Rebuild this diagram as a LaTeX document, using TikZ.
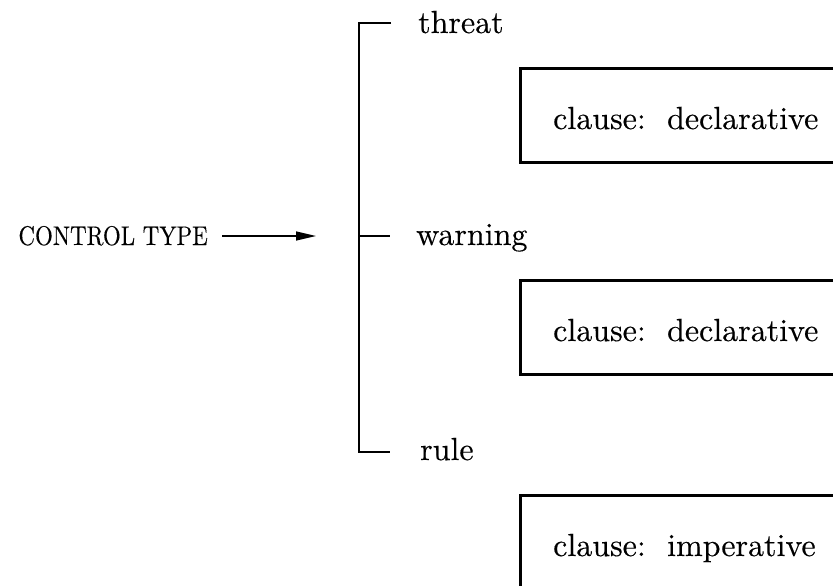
\documentclass[tikz,border=0pt]{standalone}
\usepackage{fontspec}
\usetikzlibrary{arrows.meta}
% a slightly heavier Latin Modern for all labels
\newfontfamily\labelfont{lmroman10-regular}[Extension=.otf, FakeBold=0.3]
\begin{document}
\begin{tikzpicture}[x=1pt,y=-1pt,
  lbl/.style={font=\labelfont\fontsize{32}{36}\selectfont, inner sep=0pt, anchor=base west},
  rootlbl/.style={font=\labelfont\fontsize{27}{31}\selectfont, inner sep=0pt, anchor=base east},
  clausebox/.style={draw, line width=2.6pt, minimum width=360pt, minimum height=94pt,
    anchor=north west, inner sep=0pt},
  bracketline/.style={line width=2.2pt, line cap=butt},
  arrowline/.style={line width=1.3pt, -{Triangle[length=20pt,width=9pt]}}]
  \useasboundingbox (0,0) rectangle (833,586);
  \clip (0,0) rectangle (833,586);

  % root label (narrowed caps) and its arrow into the bracket
  \node[rootlbl] (ct) at (208,245) {\scalebox{0.85}[1]{CONTROL TYPE}};
  \coordinate (top) at (359,23);
  \coordinate (mid) at (359,236);
  \coordinate (bot) at (359,452);
  \coordinate (arrowend) at (316,236);
  \draw[arrowline] ([xshift=14pt]ct.base east |- mid) -- (arrowend);

  % bracket with three ticks
  \draw[bracketline] (391,23) -- (top) -- (bot) -- (390,452);
  \draw[bracketline] (mid) -- (390,236);

  % alternatives
  \node[lbl] (threat) at (418,33) {threat};
  \node[lbl] (warning) at (416,245) {warning};
  \node[lbl] (rule) at (420,460) {rule};

  % realisation boxes, running off the right edge
  \node[clausebox] (b1) at (519,67) {};
  \node[clausebox] (b2) at (519,279) {};
  \node[clausebox] (b3) at (519,494) {};
  \node[lbl] (c1) at (553,129) {clause:\ \ declarative};
  \node[lbl] (c2) at (553,341) {clause:\ \ declarative};
  \node[lbl] (c3) at (553,556) {clause:\ \ imperative};
\end{tikzpicture}
\end{document}
